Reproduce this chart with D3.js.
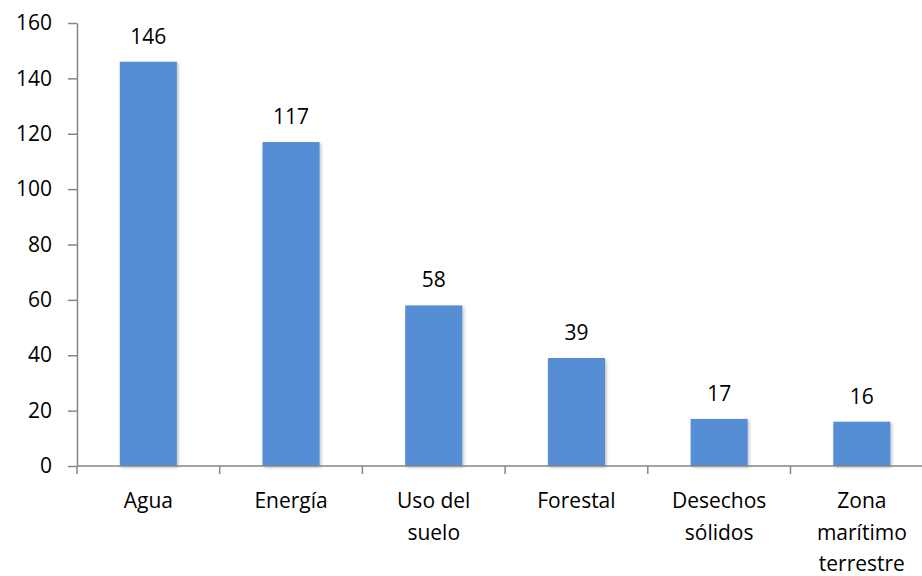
<!DOCTYPE html>
<html>
<head>
<meta charset="utf-8">
<script src="https://cdn.jsdelivr.net/npm/d3@7"></script>
<style>
  html, body { margin: 0; padding: 0; background: #fff; }
  svg { display: block; font-family: "Open Sans", Lato, sans-serif; }
</style>
</head>
<body>
<svg id="chart" width="922" height="576"></svg>
<script>
// Categories (multi-line labels split on "|") and counts
const categories = ["Agua", "Energía", "Uso del|suelo", "Forestal", "Desechos|sólidos", "Zona|marítimo|terrestre"];
const values = [146, 117, 58, 39, 17, 16];
const yTicks = [0, 20, 40, 60, 80, 100, 120, 140, 160];

(function () {
  const svg = d3.select("#chart");
  const W = 922;
  const plotLeft = 77, plotBottom = 466, plotTop = 23;
  const fontSize = 21;

  const x = d3.scaleBand().domain(categories).range([plotLeft, plotLeft + 6 * 142.7]).paddingInner(0.6).paddingOuter(0.3);
  const y = d3.scaleLinear().domain([0, 160]).range([plotBottom, plotTop]);

  // Soft drop shadow behind bars
  const defs = svg.append("defs");
  const f = defs.append("filter").attr("id", "shadow").attr("x", "-20%").attr("y", "-20%").attr("width", "140%").attr("height", "140%");
  f.append("feDropShadow").attr("dx", 1.5).attr("dy", 1.5).attr("stdDeviation", 1.5).attr("flood-color", "#000").attr("flood-opacity", 0.25);

  // Bars
  svg.append("g").selectAll("rect").data(values).join("rect")
    .attr("x", (d, i) => x(categories[i]))
    .attr("y", d => y(d))
    .attr("width", x.bandwidth())
    .attr("height", d => plotBottom - y(d))
    .attr("fill", "#558ED5")
    .attr("filter", "url(#shadow)");

  // Value labels
  svg.append("g").selectAll("text").data(values).join("text")
    .attr("x", (d, i) => x(categories[i]) + x.bandwidth() / 2)
    .attr("y", d => y(d) - 18)
    .attr("text-anchor", "middle")
    .attr("font-size", fontSize)
    .attr("fill", "#000")
    .text(d => d);

  // Y axis
  const yAxis = d3.axisLeft(y).tickValues(yTicks).tickSize(9).tickPadding(16).tickSizeOuter(0);
  const gy = svg.append("g").attr("transform", `translate(${plotLeft},0)`).call(yAxis);
  gy.select(".domain").attr("stroke", "#868686").attr("stroke-width", 1.5);
  gy.selectAll(".tick line").attr("stroke", "#868686").attr("stroke-width", 1.5);
  gy.selectAll(".tick text").attr("font-size", fontSize).attr("fill", "#000").attr("font-family", "'Open Sans', sans-serif");

  // X axis baseline and category separators
  const gx = svg.append("g");
  gx.append("line").attr("x1", plotLeft).attr("x2", W).attr("y1", plotBottom).attr("y2", plotBottom)
    .attr("stroke", "#868686").attr("stroke-width", 1.5);
  const step = x.step();
  gx.selectAll("line.sep").data(d3.range(0, 7)).join("line").attr("class", "sep")
    .attr("x1", i => plotLeft + i * step).attr("x2", i => plotLeft + i * step)
    .attr("y1", plotBottom).attr("y2", plotBottom + 8)
    .attr("stroke", "#868686").attr("stroke-width", 1.5);

  // Category labels
  const lab = svg.append("g").selectAll("text").data(categories).join("text")
    .attr("x", d => x(d) + x.bandwidth() / 2)
    .attr("y", 508)
    .attr("text-anchor", "middle")
    .attr("font-size", fontSize)
    .attr("fill", "#000");
  lab.each(function (d) {
    const t = d3.select(this);
    d.split("|").forEach((line, i) => {
      t.append("tspan").attr("x", t.attr("x")).attr("dy", i === 0 ? 0 : 31.7).text(line);
    });
  });
})();
</script>
</body>
</html>
